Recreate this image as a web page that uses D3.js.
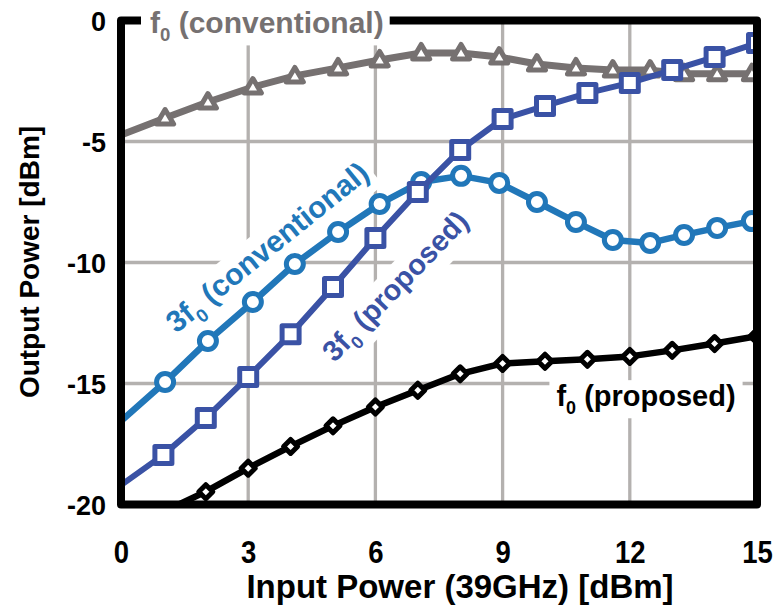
<!DOCTYPE html>
<html><head><meta charset="utf-8">
<script src="https://cdn.jsdelivr.net/npm/d3@7"></script>
<style>body{margin:0;background:#fff}</style>
</head><body>
<svg id="c" width="774" height="610"></svg>
<script>
// ---------- data ----------
const xTicks = [0, 3, 6, 9, 12, 15];
const yTicks = [0, -5, -10, -15, -20];
const convX = [0, 1.04, 2.05, 3.11, 4.1, 5.12, 6.1, 7.08, 8.02, 8.92, 9.81, 10.73, 11.6, 12.48, 13.28, 14.06, 14.88];
const f0ConvY = [-4.73, -4.03, -3.37, -2.75, -2.29, -1.96, -1.63, -1.34, -1.34, -1.51, -1.8, -1.96, -2.05, -2.05, -2.2, -2.2, -2.2];
const h3ConvY = [-16.55, -14.94, -13.24, -11.63, -10.06, -8.74, -7.58, -6.67, -6.42, -6.71, -7.5, -8.33, -9.07, -9.19, -8.86, -8.57, -8.29];
const propX3 = [0, 1, 2, 3, 4, 5, 6, 7, 8, 9, 10, 11, 12, 13, 14, 15];
const h3PropY = [-19.2, -17.95, -16.43, -14.73, -12.96, -11.01, -8.99, -7.09, -5.35, -4.07, -3.53, -3.0, -2.58, -2.05, -1.51, -0.93];
const propX1 = [1, 2, 3, 4, 5, 6, 7, 8, 9, 10, 11, 12, 13, 14, 15];
const f0PropY = [-20.3, -19.47, -18.5, -17.6, -16.75, -15.97, -15.28, -14.6, -14.17, -14.08, -14.0, -13.88, -13.63, -13.35, -13.05];

const series = [
  {name: "f0c", xs: convX, ys: f0ConvY, color: "#767171", width: 7, marker: "triangle"},
  {name: "h3c", xs: convX, ys: h3ConvY, color: "#2177b9", width: 6.5, marker: "circle"},
  {name: "h3p", xs: propX3, ys: h3PropY, color: "#3a52a5", width: 6, marker: "square"},
  {name: "f0p", xs: propX1, ys: f0PropY, color: "#000000", width: 6.5, marker: "diamond"}
];

// ---------- layout ----------
const svg = d3.select("#c");
const L = 121, R = 757, T = 20.5, B = 504.5;
const x = d3.scaleLinear().domain([0, 15]).range([L, R]);
const y = d3.scaleLinear().domain([-20, 0]).range([B, T]);
const bold = "'Liberation Sans', Arial, sans-serif";

svg.append("defs").append("clipPath").attr("id", "plot")
  .append("rect").attr("x", L).attr("y", T).attr("width", R - L).attr("height", B - T);

// grid
const grid = svg.append("g").attr("stroke", "#b4b1af").attr("stroke-width", 3.3);
grid.selectAll("line.v").data(xTicks.filter(d => d > 0 && d < 15)).join("line")
  .attr("x1", d => x(d)).attr("x2", d => x(d)).attr("y1", T).attr("y2", B);
grid.selectAll("line.h").data(yTicks.filter(d => d < 0 && d > -20)).join("line")
  .attr("y1", d => y(d)).attr("y2", d => y(d)).attr("x1", L).attr("x2", R);

// label helper
function label(g, parts, size, color) {
  const t = g.append("text").attr("font-family", bold).attr("font-weight", "bold")
    .attr("font-size", size).attr("fill", color);
  parts.forEach(p => {
    if (p.sub) {
      t.append("tspan").attr("font-size", size * 0.62).attr("dy", size * 0.28).text(p.t);
    } else {
      t.append("tspan").attr("dy", p.after ? -size * 0.28 : 0).text(p.t);
    }
  });
  return t;
}
function boxed(cx, cy, angle, parts, size, color, padX, padY) {
  const g = svg.append("g").attr("transform", `translate(${cx},${cy}) rotate(${angle})`);
  const rect = g.append("rect").attr("fill", "#fff");
  const t = label(g, parts, size, color).attr("text-anchor", "middle").attr("y", size * 0.35);
  const bb = t.node().getBBox();
  rect.attr("x", bb.x - padX).attr("y", bb.y - padY).attr("width", bb.width + 2 * padX).attr("height", bb.height + 2 * padY);
  return g;
}

// in-plot labels (under series)
boxed(267, 247, -39, [{t: "3f"}, {t: "0", sub: true}, {t: " (conventional)", after: true}], 30, "#2177b9", 4, 2);
boxed(395, 286, -46, [{t: "3f"}, {t: "0", sub: true}, {t: " (proposed)", after: true}], 29, "#3a52a5", 4, 2);
boxed(646, 396, 0, [{t: "f"}, {t: "0", sub: true}, {t: " (proposed)", after: true}], 29, "#000", 7, 0);

// series
const plot = svg.append("g").attr("clip-path", "url(#plot)");
const line = d3.line().x(d => x(d[0])).y(d => y(d[1]));
series.forEach(s => {
  const pts = s.xs.map((v, i) => [v, s.ys[i]]);
  plot.append("path").attr("d", line(pts)).attr("fill", "none")
    .attr("stroke", s.color).attr("stroke-width", s.width).attr("stroke-linejoin", "round");
  const m = plot.append("g").selectAll("path").data(pts.filter(p => p[0] > 0)).join("path")
    .attr("transform", p => `translate(${x(p[0])},${y(p[1])})`)
    .attr("fill", "#fff").attr("stroke", s.color).attr("stroke-linejoin", "round");
  if (s.marker === "triangle") m.attr("d", "M0,-8.5L8.5,6L-8.5,6Z").attr("stroke-width", 5);
  if (s.marker === "circle") m.attr("d", d3.symbol(d3.symbolCircle, Math.PI * 8.5 * 8.5)()).attr("stroke-width", 5);
  if (s.marker === "square") m.attr("d", "M-8.5,-8.5H8.5V8.5H-8.5Z").attr("stroke-width", 5);
  if (s.marker === "diamond") m.attr("d", "M0,-7L7,0L0,7L-7,0Z").attr("stroke-width", 5);
});

// frame
svg.append("rect").attr("x", L).attr("y", T).attr("width", R - L).attr("height", B - T)
  .attr("fill", "none").attr("stroke", "#000").attr("stroke-width", 8).attr("stroke-linejoin", "round");

// top label over frame
{
  const g = svg.append("g").attr("transform", "translate(150,33)");
  const rect = g.append("rect").attr("fill", "#fff");
  const t = label(g, [{t: "f"}, {t: "0", sub: true}, {t: " (conventional)", after: true}], 30, "#767171");
  const bb = t.node().getBBox();
  rect.attr("x", bb.x - 9).attr("y", bb.y).attr("width", bb.width + 15).attr("height", bb.height);
}

// axes tick labels
const yAxis = d3.axisLeft(y).tickValues(yTicks).tickSize(0).tickPadding(0).tickFormat(d => String(d));
const yg = svg.append("g").attr("transform", "translate(106,0)").call(yAxis);
yg.select(".domain").remove();
yg.selectAll("text").attr("font-family", bold).attr("font-weight", "bold").attr("font-size", 27)
  .attr("fill", "#000").attr("dy", "0.36em");

const xAxis = d3.axisBottom(x).tickValues(xTicks).tickSize(0).tickPadding(0).tickFormat(d => String(d));
const xg = svg.append("g").attr("transform", "translate(0,541)").call(xAxis);
xg.select(".domain").remove();
xg.selectAll("text").attr("font-family", bold).attr("font-weight", "bold").attr("font-size", 32)
  .attr("fill", "#000").attr("dy", "0.7em").attr("transform", "scale(0.86,1)");

// axis titles
svg.append("text").attr("transform", "translate(39,262) rotate(-90)").attr("text-anchor", "middle")
  .attr("font-family", bold).attr("font-weight", "bold").attr("font-size", 28).attr("fill", "#000")
  .text("Output Power [dBm]");
svg.append("text").attr("x", 460).attr("y", 598).attr("text-anchor", "middle")
  .attr("font-family", bold).attr("font-weight", "bold").attr("font-size", 33).attr("fill", "#000")
  .text("Input Power (39GHz) [dBm]");
</script>
</body></html>
